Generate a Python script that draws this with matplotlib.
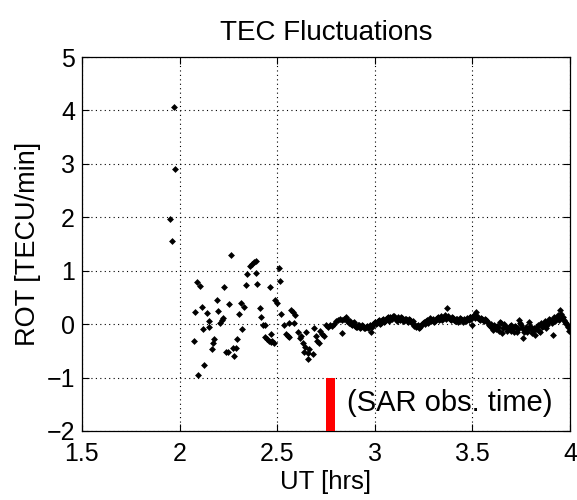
import matplotlib
matplotlib.use("Agg")
import matplotlib.pyplot as plt

plt.rcParams['font.family'] = ['Liberation Sans', 'DejaVu Sans']

# --- data ---
ut_early = [1.953, 1.963, 1.970, 1.979,
            2.073, 2.078, 2.095, 2.090, 2.105, 2.115, 2.120, 2.127, 2.140, 2.149, 2.153,
            2.165, 2.171, 2.175, 2.190, 2.197, 2.205, 2.215, 2.225, 2.226,
            2.240, 2.250, 2.253, 2.263, 2.274, 2.277, 2.291, 2.296, 2.304, 2.316, 2.321,
            2.330, 2.340, 2.347, 2.360, 2.370, 2.380, 2.390, 2.390, 2.396, 2.410, 2.415,
            2.427, 2.436, 2.436, 2.447, 2.457, 2.466, 2.465, 2.470, 2.475, 2.486, 2.490,
            2.497, 2.509, 2.514, 2.521, 2.533, 2.543, 2.553, 2.563, 2.563, 2.572, 2.580,
            2.588, 2.592, 2.606, 2.616, 2.622, 2.632, 2.635, 2.642, 2.645, 2.657, 2.657,
            2.665, 2.683, 2.691, 2.697, 2.705, 2.713, 2.717, 2.730, 2.740, 2.751, 2.760,
            2.770, 2.780, 2.790, 2.800, 2.810, 2.820, 2.830, 2.833, 2.840, 2.850]
rot_early = [1.97, 1.56, 4.06, 2.90,
             -0.32, 0.23, -0.96, 0.78, 0.72, 0.32, -0.10, -0.76, 0.20, 0.06, -0.05,
             -0.46, -0.36, -0.27, 0.46, 0.25, 0.03, 0.07, 0.11, 0.69,
             -0.52, -0.52, 0.37, 1.29, -0.44, -0.59, -0.44, -0.28, 0.19, 0.39, -0.09,
             0.32, 0.74, 0.94, 1.08, 1.13, 1.17, 1.19, 0.96, 0.76, 0.31, 0.14,
             -0.02, -0.01, -0.24, -0.28, -0.31, -0.33, 0.70, -0.19, -0.31, -0.35, 0.45,
             0.39, 1.05, 0.81, 0.19, -0.02, -0.19, -0.22, -0.24, 0.03, 0.26, 0.22,
             0.03, 0.17, -0.14, -0.26, -0.22, -0.36, -0.52, -0.42, -0.15, -0.54, -0.66,
             -0.47, -0.55, -0.08, -0.23, -0.32, -0.36, -0.12, -0.18, -0.23, -0.02, -0.05,
             -0.01, -0.04, 0.00, 0.06, 0.08, 0.10, 0.07, -0.17, 0.10, 0.13]

ut_late = [2.86, 2.87, 2.88, 2.89, 2.90, 2.91, 2.92, 2.93, 2.94, 2.95, 2.96, 2.97, 2.98, 2.99,
           3.00, 3.01, 3.02, 3.03, 3.04, 3.05, 3.06, 3.07, 3.08, 3.09, 3.10, 3.11, 3.12, 3.13,
           3.14, 3.15, 3.16, 3.17, 3.18, 3.19, 3.20, 3.21, 3.22, 3.23, 3.24, 3.25, 3.26, 3.27,
           3.28, 3.29, 3.30, 3.31, 3.32, 3.33, 3.34, 3.35, 3.36, 3.37, 3.38, 3.39, 3.40, 3.41,
           3.42, 3.43, 3.44, 3.45, 3.46, 3.47, 3.48, 3.49, 3.50, 3.51, 3.52, 3.53, 3.54, 3.55,
           3.56, 3.57, 3.58, 3.59, 3.60, 3.61, 3.62, 3.63, 3.64, 3.65, 3.66, 3.67, 3.68, 3.69,
           3.70, 3.71, 3.72, 3.73, 3.74, 3.75, 3.76, 3.77, 3.78, 3.79, 3.80, 3.81, 3.82, 3.83,
           3.84, 3.85, 3.86, 3.87, 3.88, 3.89, 3.90, 3.91, 3.92, 3.93, 3.94, 3.95, 3.96, 3.97,
           3.98, 3.99, 4.00]
rot_late = [0.05, 0.03, 0.00, 0.02, -0.03, -0.05, -0.02, -0.06, -0.04, -0.07, -0.03, -0.05, -0.14, 0.00,
            0.04, 0.02, 0.07, 0.03, 0.10, 0.06, 0.12, 0.09, 0.14, 0.10, 0.16, 0.09, 0.13, 0.07,
            0.11, 0.06, 0.09, 0.04, 0.07, 0.02, -0.03, -0.06, -0.02, -0.05, 0.00, 0.04, 0.06, 0.03,
            0.08, 0.05, 0.09, 0.06, 0.12, 0.08, 0.15, 0.11, 0.18, 0.31, 0.12, 0.08, 0.11, 0.05,
            0.09, 0.06, 0.10, 0.04, 0.08, 0.12, 0.07, 0.14, -0.01, 0.18, 0.23, 0.12, 0.08, 0.10,
            0.05, 0.07, 0.02, -0.04, -0.08, -0.02, -0.10, -0.05, 0.04, -0.17, 0.00, -0.06, -0.10, -0.04,
            -0.12, -0.08, -0.03, -0.14, 0.07, -0.02, -0.26, -0.10, -0.15, 0.04, -0.09, -0.13, -0.20, -0.05,
            -0.12, 0.02, -0.04, 0.05, -0.02, 0.10, 0.06, -0.20, 0.13, 0.09, 0.17, 0.26, 0.12, 0.07,
            0.02, -0.05, -0.08]

ut_late_b = [2.865, 2.875, 2.885, 2.895, 2.905, 2.915, 2.925, 2.935, 2.945, 2.955,
             2.965, 2.975, 2.985, 2.995, 3.005, 3.015, 3.025, 3.035, 3.045, 3.055,
             3.065, 3.075, 3.085, 3.095, 3.105, 3.115, 3.125, 3.135, 3.145, 3.155,
             3.165, 3.175, 3.185, 3.195, 3.205, 3.215, 3.225, 3.235, 3.245, 3.255,
             3.265, 3.275, 3.285, 3.295, 3.305, 3.315, 3.325, 3.335, 3.345, 3.355,
             3.365, 3.375, 3.385, 3.395, 3.405, 3.415, 3.425, 3.435, 3.445, 3.455,
             3.465, 3.475, 3.485, 3.495, 3.505, 3.515, 3.525, 3.535, 3.545, 3.555,
             3.565, 3.575, 3.585, 3.595, 3.605, 3.615, 3.625, 3.635, 3.645, 3.655,
             3.665, 3.675, 3.685, 3.695, 3.705, 3.715, 3.725, 3.735, 3.745, 3.755,
             3.765, 3.775, 3.785, 3.795, 3.805, 3.815, 3.825, 3.835, 3.845, 3.855,
             3.865, 3.875, 3.885, 3.895, 3.905, 3.915, 3.925, 3.935, 3.945, 3.955,
             3.965, 3.975, 3.985, 3.995]
rot_late_b = [0.08, 0.06, -0.02, 0.04, -0.06, -0.01, -0.07, -0.02, -0.08, -0.05,
              -0.07, -0.02, -0.06, 0.03, 0.00, 0.06, 0.01, 0.08, 0.04, 0.09,
              0.13, 0.06, 0.11, 0.15, 0.12, 0.06, 0.10, 0.13, 0.05, 0.10,
              0.07, 0.10, 0.04, 0.06, -0.01, -0.04, -0.07, -0.02, 0.03, 0.01,
              0.08, 0.05, 0.11, 0.07, 0.04, 0.10, 0.14, 0.10, 0.07, 0.14,
              0.10, 0.15, 0.09, 0.13, 0.07, 0.10, 0.04, 0.11, 0.07, 0.10,
              0.05, 0.09, 0.13, 0.10, 0.15, 0.11, 0.16, 0.09, 0.12, 0.07,
              0.10, 0.05, -0.01, 0.01, -0.11, -0.06, -0.03, -0.12, 0.02, -0.08,
              -0.03, -0.13, -0.07, -0.01, -0.09, -0.14, -0.06, -0.10, 0.02, -0.07,
              -0.15, -0.06, -0.10, -0.03, -0.16, -0.07, -0.10, -0.02, -0.15, -0.06,
              0.00, -0.08, 0.04, 0.08, 0.02, 0.10, 0.05, 0.13, 0.08, 0.19,
              0.14, 0.04, -0.02, -0.12]

sar_time = 2.775
sar_top = -1.0
sar_label = "(SAR obs. time)"

fig = plt.figure(figsize=(5.77, 5.0), dpi=100)
ax = fig.add_axes([0.142, 0.138, 0.846, 0.748])

ut_all = ut_early + ut_late + ut_late_b
rot_all = rot_early + rot_late + rot_late_b
ax.plot(ut_all, rot_all, linestyle='none', marker='D',
        markersize=3.5, color='black', markeredgewidth=0)

ax.bar([sar_time], [sar_top - (-2)], bottom=-2, width=0.045, color='#ff0000', zorder=3)
ax.text(2.855, -1.48, sar_label, fontsize=21, va='center', ha='left')

ax.set_xlim(1.5, 4)
ax.set_ylim(-2, 5)
ax.set_xticks([1.5, 2, 2.5, 3, 3.5, 4])
ax.set_xticklabels(['1.5', '2', '2.5', '3', '3.5', '4'])
ax.set_yticks([-2, -1, 0, 1, 2, 3, 4, 5])
ax.grid(True, linestyle=(0, (1, 3)), color='black', linewidth=0.8)
ax.tick_params(direction='in', top=True, right=True, labelsize=18, length=5)
ax.tick_params(axis='x', pad=8)
ax.tick_params(axis='y', pad=5)
for s in ax.spines.values():
    s.set_linewidth(0.9)

ax.set_title('TEC Fluctuations', fontsize=20, pad=12)
ax.set_xlabel('UT [hrs]', fontsize=18.5, labelpad=3)
ax.set_ylabel('ROT [TECU/min]', fontsize=19.5, labelpad=4)

fig.savefig('out.png', dpi=100)
